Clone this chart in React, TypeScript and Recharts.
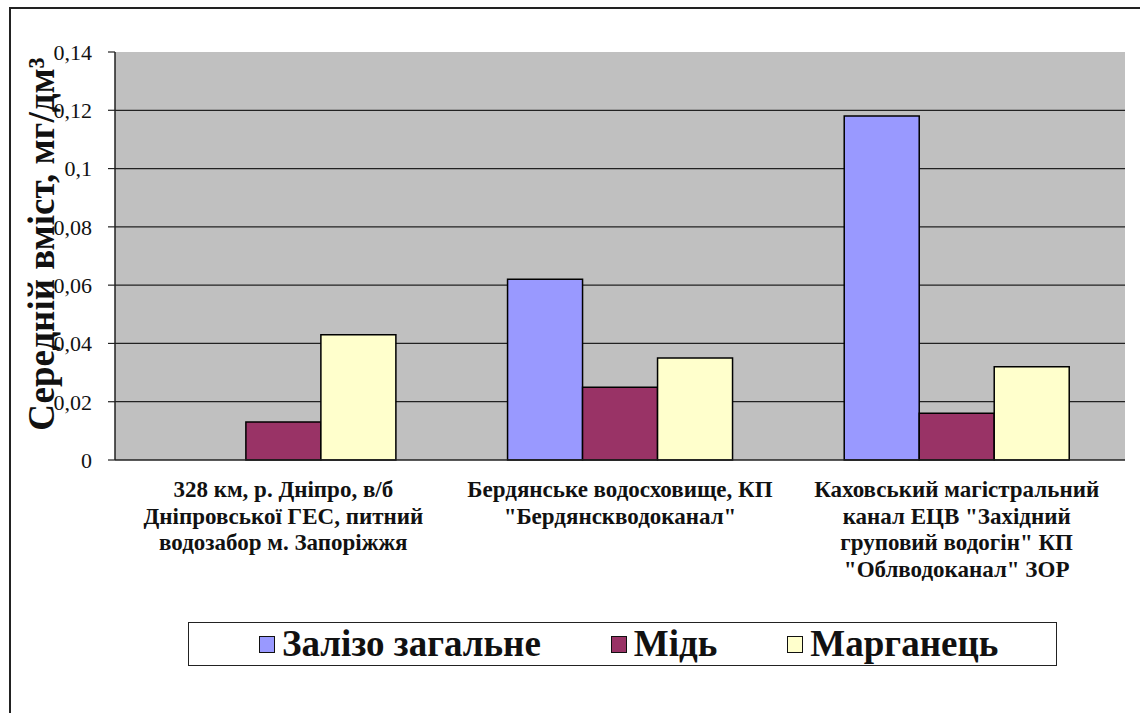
import React from 'react';
import { BarChart, Bar, XAxis, YAxis, CartesianGrid } from 'recharts';

const categories = ['328 км', 'Бердянське', 'Каховський'];
const categoryLines = [
  ['328 км, р. Дніпро, в/б', 'Дніпровської ГЕС, питний', 'водозабор м. Запоріжжя'],
  ['Бердянське водосховище, КП', '"Бердянскводоканал"'],
  ['Каховський магістральний', 'канал ЕЦВ "Західний', 'груповий водогін" КП', '"Облводоканал" ЗОР'],
];
const iron = [null, 0.062, 0.118];
const copper = [0.013, 0.025, 0.016];
const manganese = [0.043, 0.035, 0.032];
const yTicks = [0, 0.02, 0.04, 0.06, 0.08, 0.1, 0.12, 0.14];

const series = [
  { key: 'iron', name: 'Залізо загальне', color: '#9999FF' },
  { key: 'copper', name: 'Мідь', color: '#993366' },
  { key: 'manganese', name: 'Марганець', color: '#FFFFCC' },
];

const data = categories.map((c, i) => ({
  name: c,
  iron: iron[i],
  copper: copper[i],
  manganese: manganese[i],
}));

const serif = "'Liberation Serif', 'DejaVu Serif', serif";

function CategoryTick(props: any) {
  const { x, y, index } = props;
  const lines = categoryLines[index] || [];
  return (
    <text x={x} y={y} textAnchor="middle" style={{ fontFamily: serif }} fontWeight="bold" fontSize={23} fill="#111">
      {lines.map((l, i) => (
        <tspan key={i} x={x} dy={i === 0 ? 37 : 26.7}>
          {l}
        </tspan>
      ))}
    </text>
  );
}

function YLabel(props: any) {
  const vb = props.viewBox || { x: 15, y: 52, width: 100, height: 408 };
  const cx = vb.x + 39;
  const cy = vb.y + 192;
  return (
    <text
      x={cx}
      y={cy}
      transform={`rotate(-90 ${cx} ${cy})`}
      textAnchor="middle"
      style={{ fontFamily: serif }}
      fontWeight="bold"
      fontSize={37}
      fill="#111"
    >
      Середній вміст, мг/дм³
    </text>
  );
}

export default function App() {
  return (
    <div
      style={{
        position: 'absolute',
        left: 0,
        top: 0,
        width: 1140,
        height: 713,
        overflow: 'hidden',
        background: '#fff',
        fontFamily: serif,
      }}
    >
      <div
        style={{
          position: 'absolute',
          left: 9,
          top: 7,
          width: 1200,
          height: 800,
          borderTop: '2px solid #222',
          borderLeft: '2px solid #222',
        }}
      />
      <div style={{ position: 'absolute', left: 0, top: 0 }}>
        <BarChart
          width={1140}
          height={713}
          data={data}
          margin={{ top: 52, right: 15, bottom: 93, left: 15 }}
          barCategoryGap="16.6%"
          barGap={0}
          style={{ fontFamily: serif }}
        >
          <CartesianGrid
            vertical={false}
            fill="#C0C0C0"
            stroke="#222"
            strokeWidth={1.2}
            horizontalValues={[0.02, 0.04, 0.06, 0.08, 0.1, 0.12]}
          />
          <XAxis
            xAxisId="edges"
            type="number"
            domain={[0, 3]}
            ticks={[0, 1, 2, 3]}
            height={0}
            axisLine={false}
            tickLine={{ stroke: '#222', strokeWidth: 1.2 }}
            tickSize={7}
            tick={() => <g />}
            allowDataOverflow
          />
          <XAxis
            dataKey="name"
            height={160}
            axisLine={{ stroke: '#222', strokeWidth: 1.5 }}
            tickLine={false}
            tickSize={0}
            tickMargin={0}
            interval={0}
            tick={<CategoryTick />}
          />
          <XAxis xAxisId="top" orientation="top" height={0} axisLine={{ stroke: '#808080', strokeWidth: 2 }} tick={false} tickLine={false} />
          <YAxis
            domain={[0, 0.14]}
            ticks={yTicks}
            width={100}
            axisLine={{ stroke: '#222', strokeWidth: 1.5 }}
            tickLine={{ stroke: '#222', strokeWidth: 1.2 }}
            tickSize={7}
            tickMargin={16}
            tickFormatter={(v: number) => String(v).replace('.', ',')}
            tick={{ style: { fontFamily: serif }, fontSize: 22, fill: '#111' }}
            label={{ content: <YLabel /> }}
          />
          <YAxis
            yAxisId="right"
            orientation="right"
            width={0}
            domain={[0, 0.14]}
            axisLine={{ stroke: '#808080', strokeWidth: 2 }}
            tick={false}
            tickLine={false}
          />
          {series.map((s) => (
            <Bar
              key={s.key}
              dataKey={s.key}
              name={s.name}
              fill={s.color}
              stroke="#000"
              strokeWidth={1.5}
              isAnimationActive={false}
            />
          ))}
        </BarChart>
      </div>
      <div
        style={{
          position: 'absolute',
          left: 188,
          top: 622,
          width: 797,
          height: 42,
          border: '1.5px solid #222',
          display: 'flex',
          alignItems: 'center',
          paddingLeft: 70,
          boxSizing: 'content-box',
          fontFamily: serif,
          fontWeight: 'bold',
          fontSize: 37,
          color: '#111',
          whiteSpace: 'nowrap',
        }}
      >
        {series.map((s, i) => (
          <div key={s.key} style={{ display: 'flex', alignItems: 'center', marginRight: i < 2 ? 70 : 0 }}>
            <span
              style={{
                display: 'inline-block',
                width: 14,
                height: 15,
                background: s.color,
                border: '1.5px solid #111',
                marginRight: 7,
              }}
            />
            <span style={{ lineHeight: '42px' }}>{s.name}</span>
          </div>
        ))}
      </div>
    </div>
  );
}
